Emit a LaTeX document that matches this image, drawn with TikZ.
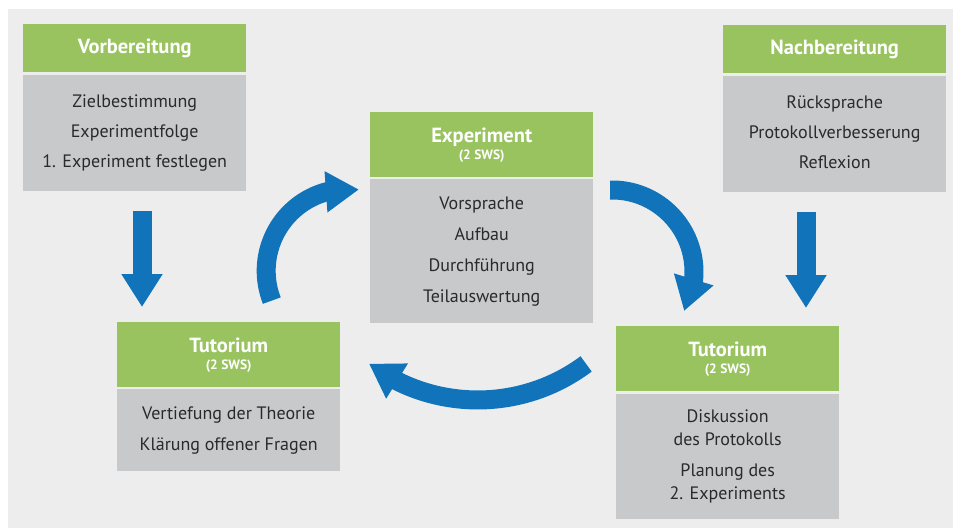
\documentclass[tikz,border=0pt]{standalone}
\usepackage{fontspec}
\setmainfont{PT Sans}
\usetikzlibrary{arrows.meta,bending}
\definecolor{bgc}{HTML}{EDEDED}
\definecolor{hdr}{HTML}{98C35F}
\definecolor{bdy}{HTML}{C8C9CB}
\definecolor{flowc}{HTML}{1174BA}
\definecolor{txt}{HTML}{2A2A2A}
\newcommand\lastdp{\rule[-4pt]{0pt}{4pt}}
\newcommand\sws{{\fontsize{13.5}{17}\selectfont (2 SWS)}}
\begin{document}
\begin{tikzpicture}[x=1pt,y=-1pt,
  hdrbox/.style={fill=hdr,anchor=north west,minimum width=223pt,inner sep=0pt,
    text=white,font=\bfseries\fontsize{20.5}{17}\selectfont,align=center},
  bdybox/.style={fill=bdy,anchor=north west,minimum width=223pt,inner sep=0pt,
    text=txt,font=\fontsize{18}{30}\selectfont,align=center},
  flow/.style={draw=flowc,line width=19pt,-{Triangle[length=33pt,width=39pt]}}]
\useasboundingbox (0,0) rectangle (953,528);
\fill[white] (0,0) rectangle (953,528);
\fill[bgc] (8,9) rectangle (953,528);

% Vorbereitung
\node[hdrbox,minimum height=48pt] (vbh) at (23,24) {Vorbereitung};
\node[bdybox,minimum height=116pt] (vbb) at (23,75) {Zielbestimmung\\Experimentfolge\\1. Experiment festlegen};

% Nachbereitung
\node[hdrbox,minimum height=48pt] (nbh) at (723,25) {Nachbereitung};
\node[bdybox,minimum height=116pt] (nbb) at (723,76) {Rücksprache\\Protokollverbesserung\\Reflexion\lastdp};

% Experiment
\node[hdrbox,minimum height=65pt] (exh) at (370,112) {Experiment\\\sws};
\node[bdybox,minimum height=144pt,font=\fontsize{18}{31}\selectfont] (exb) at (370,179) {Vorsprache\\Aufbau\\Durchführung\\Teilauswertung};

% Tutorium links
\node[hdrbox,minimum height=65pt] (tlh) at (117,322) {Tutorium\\\sws};
\node[bdybox,minimum height=82pt,font=\fontsize{18}{31}\selectfont] (tlb) at (117,389) {Vertiefung der Theorie\\Klärung offener Fragen};

% Tutorium rechts
\node[hdrbox,minimum height=65pt] (trh) at (616,326) {Tutorium\\\sws};
\node[bdybox,minimum height=125pt,font=\fontsize{18}{23}\selectfont] (trb) at (616,394) {Diskussion\\des Protokolls\\[8pt]Planung des\\2. Experiments};

% straight arrows
\coordinate (xl) at (142,0);
\coordinate (xr) at (806,0);
\draw[flow,shorten <=20pt,shorten >=15pt] (xl |- vbb.south) -- (xl |- tlh.north);
\draw[flow,shorten <=20pt,shorten >=18pt] (xr |- nbb.south) -- (xr |- trh.north);

% curved arrows
\coordinate (c1) at (271.8,300.6);
\coordinate (c2) at (610,190);
\coordinate (c3) at (586.1,363.9);
\draw[flow] (c1) arc[start angle=158.7,end angle=277.5,radius=82];
\draw[flow] (c2) arc[start angle=-91.4,end angle=28.4,radius=82];
\draw[flow] (c3) arc[start angle=53.2,end angle=126.9,radius=181];
\end{tikzpicture}
\end{document}
